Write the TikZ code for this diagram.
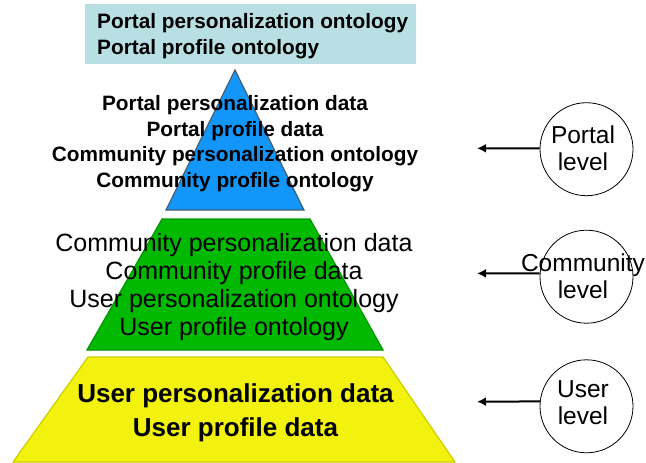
\documentclass[tikz,border=0pt]{standalone}
\usepackage{fontspec}
\setmainfont{Liberation Sans}
\usetikzlibrary{arrows.meta}
\definecolor{topc}{RGB}{184,223,227}
\definecolor{bluec}{RGB}{18,150,250}
\definecolor{blueline}{RGB}{70,95,110}
\definecolor{greenc}{RGB}{0,185,0}
\definecolor{greenline}{RGB}{0,150,0}
\definecolor{yellowc}{RGB}{242,242,14}
\definecolor{yellowline}{RGB}{205,205,0}
\tikzset{
  smallbold/.style={font={\fontsize{20.8}{25.5}\selectfont\bfseries}, inner sep=0pt},
  midtext/.style={font={\fontsize{25}{28}\selectfont}, inner sep=0pt, align=center},
  bigbold/.style={font={\fontsize{26}{34}\selectfont\bfseries}, inner sep=0pt, align=center},
  levelcirc/.style={circle, draw=black, line width=0.8pt, fill=white, minimum size=93pt, inner sep=0pt},
  leveltext/.style={font={\fontsize{24.5}{27}\selectfont}, inner sep=0pt, align=center},
  levelarrow/.style={-{Latex[length=9pt,width=9pt]}, line width=2pt}
}
\begin{document}
\begin{tikzpicture}[x=1pt,y=-1pt]
\useasboundingbox (0,0) rectangle (646,463);
% top box
\node[fill=topc, minimum width=331pt, minimum height=60pt, inner sep=0pt, anchor=north west] (topbox) at (85,4) {};
\node[smallbold, align=left, anchor=west] (toptext) at (97,36) {Portal personalization ontology\\Portal profile ontology};
% pyramid
\filldraw[fill=bluec, draw=blueline, line width=1.2pt] (235,70) -- (304,210) -- (166,210) -- cycle;
\filldraw[fill=greenc, draw=greenline, line width=1.2pt] (162,219) -- (310,219) -- (383,350) -- (87,350) -- cycle;
\filldraw[fill=yellowc, draw=yellowline, line width=1.2pt] (88,357) -- (383,357) -- (455,462) -- (13,462) -- cycle;
% texts
\node[smallbold, align=center] (bluetext) at (235,143.5) {Portal personalization data\\Portal profile data\\Community personalization ontology\\Community profile ontology};
\node[midtext] (greentext) at (234,287.5) {Community personalization data\\Community profile data\\User personalization ontology\\User profile ontology};
\node[bigbold] (yellowtext) at (235.5,413) {User personalization data\\User profile data};
% levels
\node[levelcirc] (pc) at (586.5,149.2) {};
\node[leveltext] (pt) at (583,148.5) {Portal\\level};
\coordinate (pa) at (477,148.3);
\draw[levelarrow] (pc.179) -- (pa);
\node[levelcirc] (cc) at (586.5,276.7) {};
\node[leveltext] (ct) at (583,276.5) {Community\\level};
\coordinate (ca) at (477,273.4);
\draw[levelarrow] (cc.176) -- (ca);
\node[levelcirc] (uc) at (586.5,406.3) {};
\node[leveltext] (ut) at (583,403) {User\\level};
\coordinate (ua) at (477,401.7);
\draw[levelarrow] (uc.174) -- (ua);
\end{tikzpicture}
\end{document}
